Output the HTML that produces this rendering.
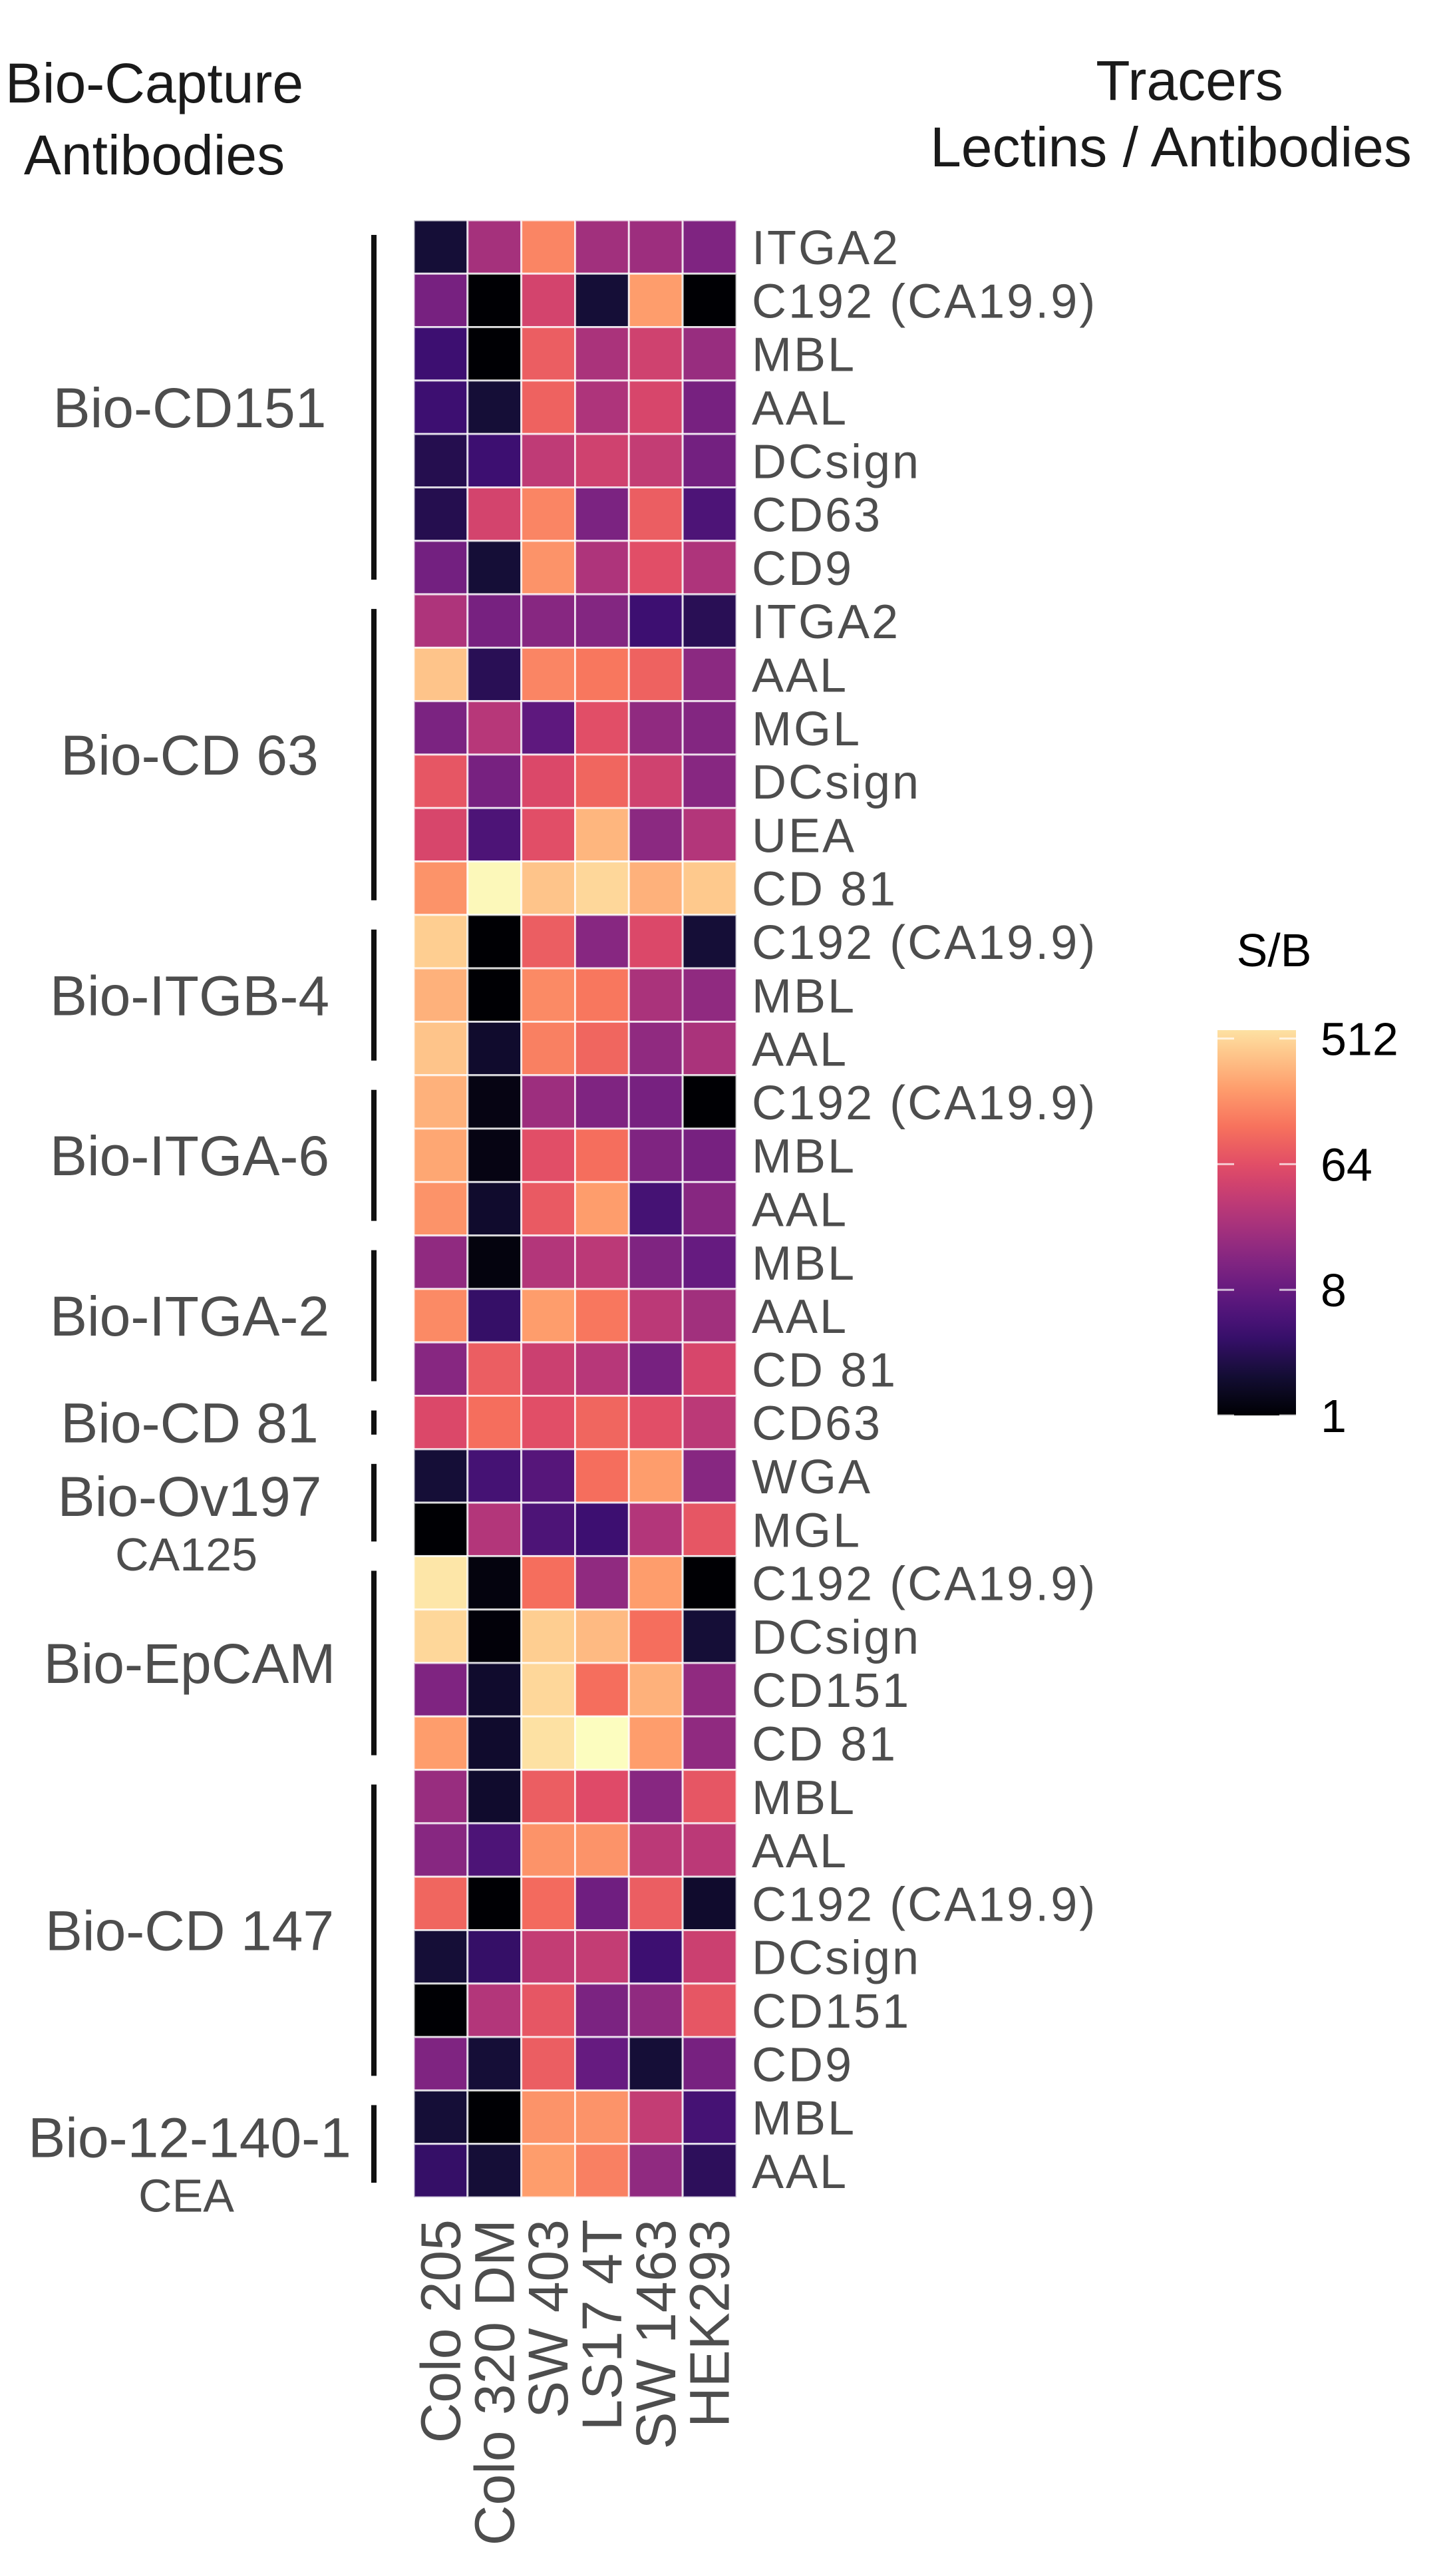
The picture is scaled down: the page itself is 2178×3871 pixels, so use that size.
<!DOCTYPE html>
<html><head><meta charset="utf-8">
<style>
html,body{margin:0;padding:0;background:#fff;}
svg{display:block;font-family:"Liberation Sans",Arial,sans-serif;}
</style></head>
<body>
<svg id="chart" width="2178" height="3871" viewBox="0 0 2178 3871" xmlns="http://www.w3.org/2000/svg">
  <text x="232" y="154" font-size="84" fill="#1a1a1a" text-anchor="middle">Bio-Capture</text>
  <text x="232" y="262" font-size="84" fill="#1a1a1a" text-anchor="middle">Antibodies</text>
  <text x="1788" y="150" font-size="84" fill="#1a1a1a" text-anchor="middle">Tracers</text>
  <text x="1760" y="250" font-size="84" fill="#1a1a1a" text-anchor="middle">Lectins / Antibodies</text>
  <g id="cells"></g>
  <g id="rowlabels"></g>
  <g id="collabels"></g>
  <g id="groups"></g>
  <g id="legend"></g>
</svg>
<script>
// column categories (cell lines)
const columns = ["Colo 205","Colo 320 DM","SW 403","LS17 4T","SW 1463","HEK293"];
// row categories (tracers)
const rows = ["ITGA2","C192 (CA19.9)","MBL","AAL","DCsign","CD63","CD9",
 "ITGA2","AAL","MGL","DCsign","UEA","CD 81",
 "C192 (CA19.9)","MBL","AAL",
 "C192 (CA19.9)","MBL","AAL",
 "MBL","AAL","CD 81",
 "CD63",
 "WGA","MGL",
 "C192 (CA19.9)","DCsign","CD151","CD 81",
 "MBL","AAL","C192 (CA19.9)","DCsign","CD151","CD9",
 "MBL","AAL"];
// log2(S/B) values per row, columns in order above
const values = [
 [1,4.5,7.3,4.4,4.3,3.6],
 [3.4,0,5.6,1,7.8,0],
 [2,0,6.4,4.6,5.5,4.2],
 [2,1,6.5,4.7,5.7,3.4],
 [1.4,2,5.1,5.5,5.2,3.3],
 [1.4,5.6,7.3,3.5,6.4,2.4],
 [3.3,1,7.6,4.7,6,4.7],
 [4.7,3.4,3.8,3.7,2,1.5],
 [8.6,1.5,7.3,7,6.5,3.9],
 [3.5,4.9,2.8,6,4,3.7],
 [6.2,3.4,5.8,6.6,5.5,3.8],
 [5.7,2.4,6,8.3,3.9,4.8],
 [7.6,9.7,8.6,9.0,8.2,8.7],
 [8.8,0,6.4,3.8,5.8,1],
 [8.2,0,7.4,7.0,4.6,4.0],
 [8.6,0.8,7.2,6.6,4.0,4.6],
 [8.2,0.3,4.3,3.6,3.4,0],
 [8.0,0.3,6.0,6.8,3.6,3.4],
 [7.6,0.8,6.3,7.8,2.2,3.8],
 [4.0,0.2,4.8,5.0,3.6,3.0],
 [7.4,1.8,7.8,7.0,5.0,4.4],
 [3.8,6.4,5.4,4.9,3.4,5.7],
 [5.8,6.8,6.0,6.6,6.0,5.0],
 [1,2.2,2.6,6.8,7.8,3.8],
 [0,4.8,2.4,2.0,4.8,6.2],
 [9.3,0.2,6.8,4.0,7.8,0],
 [9.0,0.1,8.8,8.4,6.8,1],
 [3.6,0.8,9.0,6.8,8.2,4.0],
 [7.8,0.8,9.2,9.8,7.8,4.0],
 [4.2,0.8,6.4,5.9,3.8,6.2],
 [3.8,2.4,7.6,7.6,5.0,5.0],
 [6.6,0,6.7,3.2,6.4,0.8],
 [1,1.8,5.2,5.2,2.0,5.4],
 [0,4.8,6.2,3.5,4.0,6.2],
 [3.6,1,6.4,3.0,1,3.4],
 [1,0,7.6,7.6,5.2,2.2],
 [1.8,1,7.8,7.2,4.0,1.6]
];
// capture group names, sub labels and row ranges
const groupNames = ["Bio-CD151","Bio-CD 63","Bio-ITGB-4","Bio-ITGA-6","Bio-ITGA-2","Bio-CD 81","Bio-Ov197","Bio-EpCAM","Bio-CD 147","Bio-12-140-1"];
const groupSub = ["","","","","","","CA125","","","CEA"];
const groupStart = [0,7,13,16,19,22,23,25,29,35];
const groupEnd = [6,12,15,18,21,22,24,28,34,36];
// legend ticks
const legendTicks = ["512","64","8","1"];
const legendTickLog = [9,6,3,0];

const NS="http://www.w3.org/2000/svg";
const gx0=622, gx1=1107, gy0=331, gy1=3302;
const cw=(gx1-gx0)/columns.length, rh=(gy1-gy0)/rows.length;
const xPos=j=>gx0+j*cw, yPos=i=>gy0+i*rh;
const vmax=9.2, cmax=9.8;
const magma=[[0,0,4],[20,14,54],[59,15,112],[100,26,128],[140,41,129],[183,55,121],[222,73,104],[247,112,92],[254,159,109],[254,207,146],[252,253,191]];
function colT(tt){let t=Math.max(0,Math.min(1,tt))*10;let i=Math.min(9,Math.floor(t));let f=t-i;
 const a=magma[i],b=magma[i+1];return `rgb(${a.map((c,k)=>Math.round(c+(b[k]-c)*f)).join(',')})`;}
const col=v=>colT(v/cmax);
function mk(tag,attrs,parent){const e=document.createElementNS(NS,tag);for(const k in attrs)e.setAttribute(k,attrs[k]);parent.appendChild(e);return e;}

const cells=document.getElementById('cells');
values.forEach((row,i)=>row.forEach((v,j)=>{
 const r=mk('rect',{x:xPos(j),y:yPos(i),width:cw,height:rh,fill:col(v),stroke:'rgba(255,255,255,0.75)','stroke-width':3},cells);
 
 
}));
const rl=document.getElementById('rowlabels');
rows.forEach((n,i)=>{
 const t=mk('text',{x:1130,y:yPos(i)+rh/2+26,'font-size':72,fill:'#4d4d4d','letter-spacing':3},rl);
 t.textContent=n;
 
 
});
const cl=document.getElementById('collabels');
columns.forEach((n,j)=>{
 const cx=xPos(j)+cw/2+29, cy=3335;
 const t=mk('text',{x:cx,y:cy,'font-size':84,fill:'#4d4d4d','text-anchor':'end',transform:`rotate(-90 ${cx} ${cy})`},cl);
 t.textContent=n;
 
 
});
const gg=document.getElementById('groups');
groupNames.forEach((n,k)=>{
 const y0=yPos(groupStart[k])+22, y1=yPos(groupEnd[k]+1)-22;
 const b=mk('rect',{x:558,y:y0,width:8,height:y1-y0,fill:'#111'},gg);
 
 
 const mid=(yPos(groupStart[k])+yPos(groupEnd[k]+1))/2;
 const hasSub=groupSub[k]!=="";
 const ty=hasSub?mid+20:mid+30;
 const t=mk('text',{x:285,y:ty,'font-size':84,fill:'#4d4d4d','text-anchor':'middle'},gg);
 t.textContent=n;
 
 
 if(hasSub){
  const s=mk('text',{x:280,y:ty+82,'font-size':70,fill:'#4d4d4d','text-anchor':'middle'},gg);
  s.textContent=groupSub[k];
  
  
 }
});
const lg=document.getElementById('legend');
const lb0=2127, lb1=1548, lx=1830, lw=118;
const ly=v=>lb0-(v/vmax)*(lb0-lb1);
const defs=mk('defs',{},lg);
const grad=mk('linearGradient',{id:'mg',x1:0,y1:1,x2:0,y2:0},defs);
for(let k=0;k<=20;k++){mk('stop',{offset:(k*5)+'%','stop-color':colT((k/20)*vmax/cmax)},grad);}
const lr=mk('rect',{x:lx,y:lb1,width:lw,height:lb0-lb1,fill:'url(#mg)'},lg);


const title=mk('text',{x:1915,y:1452,'font-size':70,fill:'#000','text-anchor':'middle'},lg);
title.textContent='S/B';


legendTicks.forEach((lab,k)=>{
 const y=ly(legendTickLog[k]);
 mk('line',{x1:lx,x2:lx+25,y1:y,y2:y,stroke:'#fff','stroke-opacity':0.7,'stroke-width':3},lg);
 mk('line',{x1:lx+lw-25,x2:lx+lw,y1:y,y2:y,stroke:'#fff','stroke-opacity':0.7,'stroke-width':3},lg);
 const t=mk('text',{x:1985,y:y+25,'font-size':70,fill:'#000'},lg);
 t.textContent=lab;
 
 
});
</script>
</body></html>
